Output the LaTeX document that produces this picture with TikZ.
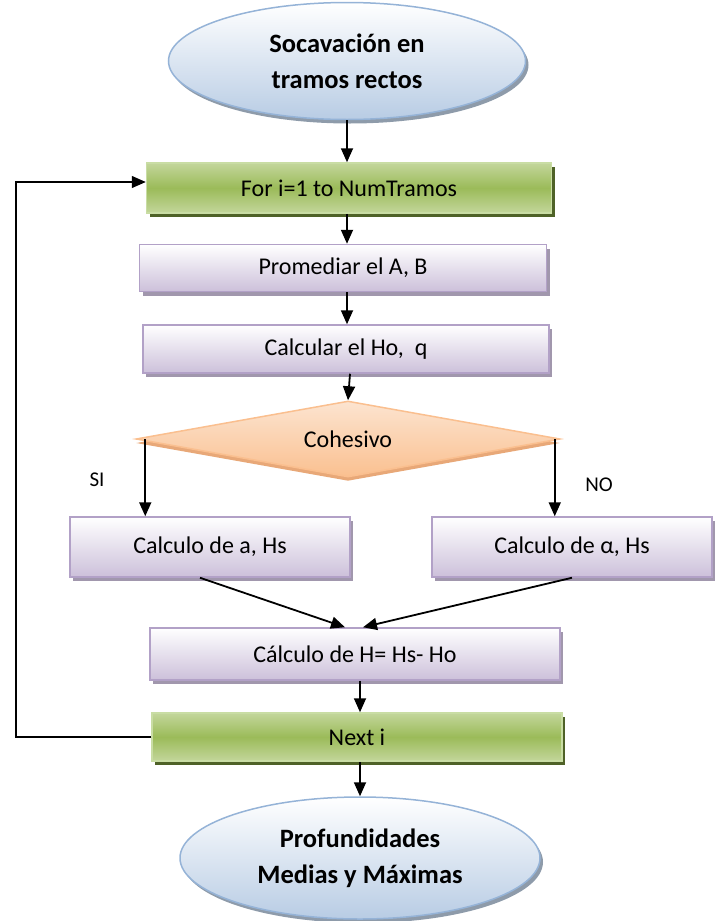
\documentclass[tikz,border=0pt]{standalone}
\usepackage{fontspec}
\setmainfont{Carlito}
\usetikzlibrary{shapes.geometric,shadows,arrows.meta,calc}

\definecolor{grnlight}{HTML}{C3D69B}
\definecolor{grnmid}{HTML}{9BBB59}
\definecolor{grnshadow}{HTML}{4F6228}
\definecolor{grnborder}{HTML}{C9DDA4}
\definecolor{purtop}{HTML}{FFFFFF}
\definecolor{purbot}{HTML}{CCC0DA}
\definecolor{purborder}{HTML}{B2A1C7}
\definecolor{purshadow}{HTML}{A197AD}
\definecolor{orgtop}{HTML}{FCE4D0}
\definecolor{orgbot}{HTML}{FAC090}
\definecolor{orgborder}{HTML}{FABF8F}
\definecolor{orgshadow}{HTML}{E8A878}
\definecolor{blutop}{HTML}{FFFFFF}
\definecolor{blubot}{HTML}{B8CCE4}
\definecolor{bluborder}{HTML}{95B3D7}
\definecolor{blushadow}{HTML}{8E9BAA}

\tikzset{
  txt/.style={font=\fontsize{24}{28}\selectfont, text=black},
  loopbox/.style={rectangle, draw=grnborder, line width=1.5pt,
    top color=grnlight, bottom color=grnlight, middle color=grnmid,
    drop shadow={shadow xshift=3pt, shadow yshift=-4pt, fill=grnshadow, opacity=1},
    inner sep=0pt, txt},
  procbox/.style={rectangle, draw=purborder, line width=1.5pt,
    top color=purtop, bottom color=purbot,
    drop shadow={shadow xshift=3pt, shadow yshift=-4pt, fill=purshadow, opacity=1},
    inner sep=0pt, txt},
  decision/.style={diamond, aspect=5.6, draw=orgborder, line width=1.5pt,
    top color=orgtop, bottom color=orgbot,
    drop shadow={shadow xshift=0pt, shadow yshift=-4pt, fill=orgshadow, opacity=1},
    inner sep=0pt, txt},
  terminal/.style={ellipse, draw=bluborder, line width=1.5pt,
    top color=blutop, bottom color=blubot,
    drop shadow={shadow xshift=3pt, shadow yshift=-4pt, fill=blushadow, opacity=1},
    inner sep=0pt, align=center, text=black,
    font=\fontsize{26.5}{36}\selectfont\bfseries},
  arr/.style={line width=1.8pt, -{Triangle[length=14pt,width=12pt]}},
  branchlbl/.style={font=\fontsize{21}{25}\selectfont, text=black}
}

\begin{document}
\begin{tikzpicture}[x=1pt,y=-1pt]
  \useasboundingbox (0,0) rectangle (721,921);

  % nodes of the flowchart
  \node[terminal, minimum width=357pt, minimum height=117pt] (start) at (347,61)
    {Socavación en\\tramos rectos};
  \node[loopbox, minimum width=405pt, minimum height=50pt] (forbox) at (349,188)
    {For i=1 to NumTramos};
  \node[procbox, minimum width=407pt, minimum height=47pt] (prom) at (343,268)
    {Promediar el A, B};
  \node[procbox, minimum width=406pt, minimum height=48pt] (calc) at (346,349)
    {Calcular el Ho,\ \ q};
  \node[decision, minimum width=424pt, minimum height=76pt] (coh) at (348,439)
    {Cohesivo};
  \node[procbox, minimum width=280pt, minimum height=60pt] (ca) at (210,547)
    {Calculo de a, Hs};
  \node[procbox, minimum width=280pt, minimum height=60pt] (calpha) at (572,547)
    {Calculo de α, Hs};
  \node[procbox, minimum width=410pt, minimum height=52pt] (hcalc) at (355,654)
    {Cálculo de H= Hs- Ho};
  \node[loopbox, minimum width=410pt, minimum height=48pt] (nexti) at (357,737)
    {Next i};
  \node[terminal, minimum width=360pt, minimum height=122pt] (stop) at (360,858)
    {Profundidades\\Medias y Máximas};

  % branch labels
  \node[branchlbl] (si) at (97,480) {SI};
  \node[branchlbl] (no) at (599,485) {NO};

  % main flow
  \draw[arr] (start.south) -- (start.south |- forbox.north);
  \draw[arr] (forbox.south -| start.south) -- (prom.north -| start.south);
  \draw[arr] (prom.south -| start.south) -- (calc.north -| start.south);
  \draw[arr] ([xshift=4pt]calc.south) -- (coh.north);
  \draw[arr] ([xshift=10pt]coh.west) -- ([xshift=10pt]coh.west |- ca.north);
  \draw[arr] ([xshift=-6pt]coh.east) -- ([xshift=-6pt]coh.east |- calpha.north);
  \draw[arr] ([xshift=-10pt]ca.south) -- ([xshift=-10pt]hcalc.north);
  \draw[arr] (calpha.south) -- ([xshift=8pt]hcalc.north);
  \draw[arr] ([xshift=5pt]hcalc.south) -- ([xshift=3pt]nexti.north);
  \draw[arr] ([xshift=3pt]nexti.south) -- (stop.north);

  % loop back to the start of the iteration
  \coordinate (loopcorner) at (16,737);
  \draw[line width=1.3pt, -{Triangle[length=14pt,width=12pt]}]
    (nexti.west) -- (loopcorner) |- ([yshift=6pt]forbox.west);
\end{tikzpicture}
\end{document}
